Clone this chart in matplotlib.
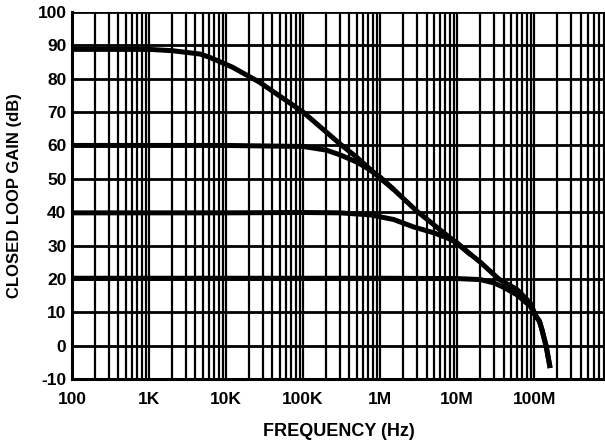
import matplotlib
matplotlib.use("Agg")
import matplotlib.pyplot as plt
from matplotlib.ticker import LogLocator, FixedLocator, NullFormatter

plt.rcParams['font.family'] = ['Liberation Sans', 'DejaVu Sans']
plt.rcParams['font.weight'] = 'bold'

# open loop curve (top) and closed loop curves
f_ol = [100, 1e3, 2e3, 4.6e3, 6e3, 12e3, 27e3, 100e3, 300e3, 500e3, 1e6, 1.5e6, 3e6,
        10e6, 20e6, 35e6, 60e6, 89e6, 103e6, 117e6, 126e6, 143e6, 161e6]
g_ol = [88.8, 88.8, 88.4, 87.4, 86.5, 83.5, 79, 70, 60.5, 56.4, 50.2, 46.8, 40.3,
        30.6, 25, 19.9, 16.8, 12.8, 9.3, 7.3, 4.8, -0.2, -6.7]

f_60 = [100, 10e3, 100e3, 200e3, 300e3, 500e3, 700e3, 1e6, 1.5e6]
g_60 = [60, 60, 59.7, 58.6, 57.2, 55, 53, 50.5, 46.8]

f_40 = [100, 10e3, 100e3, 300e3, 740e3, 1.5e6, 2.7e6, 5e6, 7.4e6, 10e6, 15e6]
g_40 = [39.8, 39.8, 39.9, 39.8, 39.2, 37.8, 35.6, 33.8, 32.3, 30.8, 27.2]

f_20 = [100, 1e6, 10e6, 20e6, 30e6, 40e6, 60e6, 89e6, 103e6, 117e6, 126e6, 143e6, 161e6]
g_20 = [20.2, 20.2, 20.1, 19.8, 18.8, 17.5, 15.2, 11.8, 9.0, 7.3, 4.8, -0.2, -6.7]

x_ticks = [1e2, 1e3, 1e4, 1e5, 1e6, 1e7, 1e8]
x_labels = ["100", "1K", "10K", "100K", "1M", "10M", "100M"]
y_ticks = list(range(-10, 101, 10))
y_labels = [str(v) for v in y_ticks]  # plain hyphen for -10

fig = plt.figure(figsize=(6.05, 4.42), dpi=100)
ax = fig.add_axes([72 / 605, 1 - 379 / 442, 1 - 72 / 605, 367 / 442])

for f, g in [(f_ol, g_ol), (f_60, g_60), (f_40, g_40), (f_20, g_20)]:
    ax.plot(f, g, color="black", lw=3.6, solid_capstyle="butt", zorder=3)

ax.set_xscale("log")
ax.set_xlim(100, 8.3e8)
ax.set_ylim(-10, 100)
ax.xaxis.set_major_locator(FixedLocator(x_ticks))
ax.set_xticklabels(x_labels)
ax.xaxis.set_minor_locator(LogLocator(base=10, subs=range(2, 10), numticks=20))
ax.xaxis.set_minor_formatter(NullFormatter())
ax.set_yticks(y_ticks)
ax.set_yticklabels(y_labels)

ax.grid(True, which="both", axis="x", color="black", lw=1.6)
ax.grid(True, which="major", axis="y", color="black", lw=2)
ax.set_axisbelow(True)

for s in ["left", "bottom"]:
    ax.spines[s].set_linewidth(2.2)
ax.spines["right"].set_visible(False)
ax.spines["top"].set_visible(False)

ax.tick_params(which="both", length=0)
ax.tick_params(axis="x", pad=9, labelsize=12.5)
ax.tick_params(axis="y", pad=4, labelsize=12.5)

ax.set_xlabel("FREQUENCY (Hz)", fontsize=13, fontweight="bold", labelpad=12)
ax.set_ylabel("CLOSED LOOP GAIN (dB)", fontsize=12, fontweight="bold", labelpad=11)

fig.savefig("out.png", dpi=100)
